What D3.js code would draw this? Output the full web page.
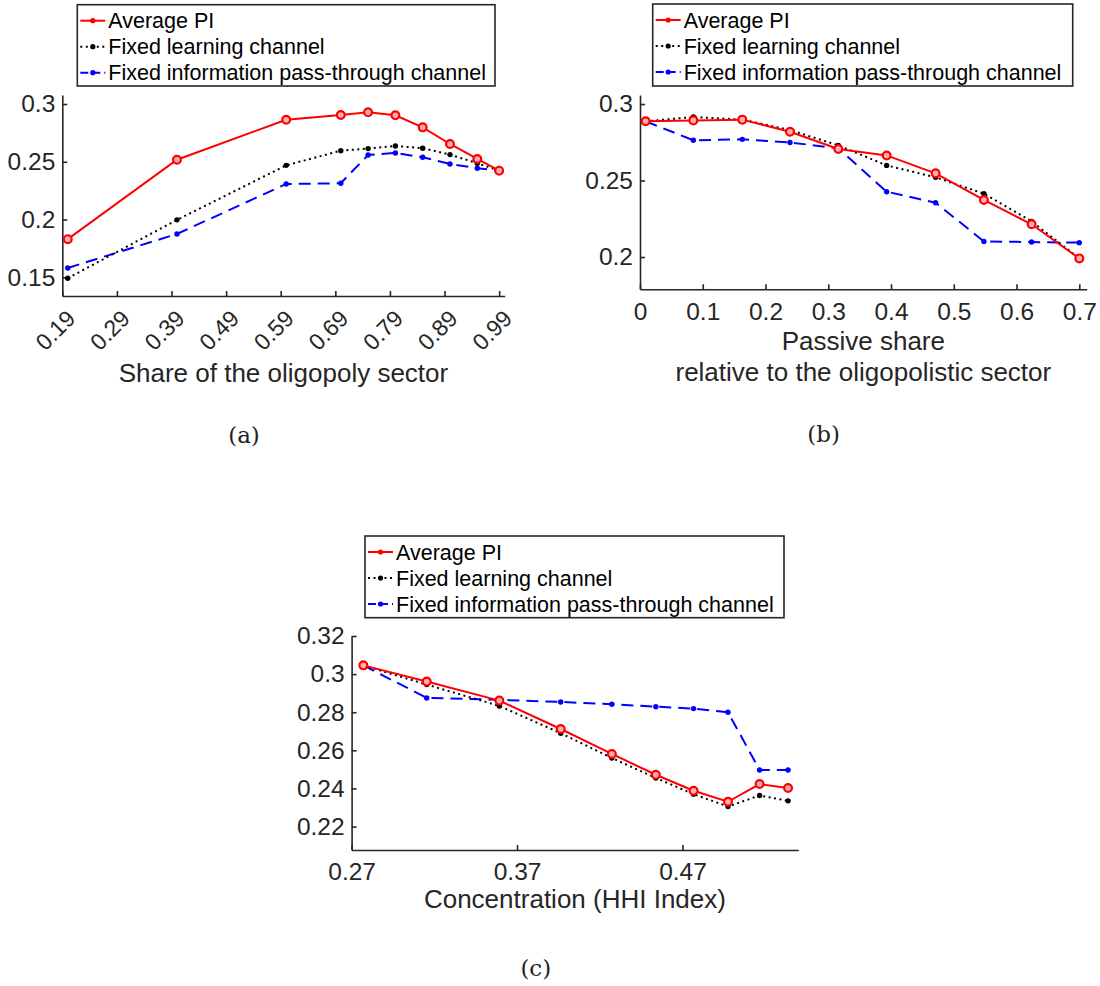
<!DOCTYPE html>
<html>
<head>
<meta charset="utf-8">
<script src="https://cdn.jsdelivr.net/npm/d3@7/dist/d3.min.js"></script>
<style>
  body { margin: 0; background: #fff; }
  svg text { font-family: "Liberation Sans", Arial, Helvetica, sans-serif; }
</style>
</head>
<body>
<svg id="chart" width="1100" height="986"></svg>
<script>
const seriesNames = ["Average PI", "Fixed learning channel", "Fixed information pass-through channel"];

// panel (a): share of the oligopoly sector
const shareX = [0.2, 0.4, 0.6, 0.7, 0.75, 0.8, 0.85, 0.9, 0.95, 0.99];
const shareAvg = [0.183, 0.2518, 0.2864, 0.2905, 0.2928, 0.2902, 0.2798, 0.2654, 0.2524, 0.2423];
const shareLearn = [0.1492, 0.1997, 0.2469, 0.2596, 0.2614, 0.2637, 0.2617, 0.2562, 0.2487, 0.2423];
const sharePass = [0.1581, 0.1875, 0.2308, 0.2314, 0.2559, 0.2576, 0.2539, 0.2481, 0.2444, 0.2423];
const shareXTicks = [0.19, 0.29, 0.39, 0.49, 0.59, 0.69, 0.79, 0.89, 0.99];
const shareXLabels = ["0.19", "0.29", "0.39", "0.49", "0.59", "0.69", "0.79", "0.89", "0.99"];
const shareYTicks = [0.15, 0.2, 0.25, 0.3];
const shareYLabels = ["0.15", "0.2", "0.25", "0.3"];

// panel (b): passive share
const passiveX = [0.009, 0.085, 0.163, 0.239, 0.316, 0.393, 0.471, 0.548, 0.624, 0.70];
const passiveAvg = [0.2887, 0.2893, 0.2898, 0.2819, 0.2706, 0.2664, 0.2547, 0.2373, 0.2214, 0.1991];
const passiveLearn = [0.2887, 0.2915, 0.2898, 0.283, 0.273, 0.2599, 0.2521, 0.2414, 0.2233, 0.1991];
const passivePass = [0.2887, 0.2763, 0.2769, 0.2749, 0.271, 0.2427, 0.2355, 0.2102, 0.2098, 0.2094];
const passiveXTicks = [0, 0.1, 0.2, 0.3, 0.4, 0.5, 0.6, 0.7];
const passiveXLabels = ["0", "0.1", "0.2", "0.3", "0.4", "0.5", "0.6", "0.7"];
const passiveYTicks = [0.2, 0.25, 0.3];
const passiveYLabels = ["0.2", "0.25", "0.3"];

// panel (c): concentration
const hhiX = [0.2771, 0.3154, 0.3593, 0.3964, 0.4273, 0.4539, 0.4767, 0.4975, 0.5166, 0.5338];
const hhiAvg = [0.3046, 0.2961, 0.2861, 0.2712, 0.2581, 0.2472, 0.2388, 0.233, 0.2423, 0.2402];
const hhiLearn = [0.3046, 0.2945, 0.2833, 0.269, 0.256, 0.2455, 0.237, 0.2305, 0.2363, 0.2335];
const hhiPass = [0.3046, 0.2875, 0.2865, 0.2854, 0.2842, 0.2829, 0.2819, 0.28, 0.2497, 0.2497];
const hhiXTicks = [0.27, 0.37, 0.47];
const hhiXLabels = ["0.27", "0.37", "0.47"];
const hhiYTicks = [0.22, 0.24, 0.26, 0.28, 0.3, 0.32];
const hhiYLabels = ["0.22", "0.24", "0.26", "0.28", "0.3", "0.32"];

const axisColor = "#262626";
const styles = [
  { color: "#ff0000", dash: null, marker: "circle" },
  { color: "#000000", dash: "2,3.5", marker: "dot" },
  { color: "#0000ff", dash: "12,7", marker: "dot" }
];

const svg = d3.select("#chart");

function drawMarkers(g, pts, st) {
  if (st.marker === "circle") {
    g.selectAll(null).data(pts).enter().append("circle")
      .attr("cx", d => d[0]).attr("cy", d => d[1]).attr("r", 3.9)
      .attr("fill", "#ffb0b0").attr("stroke", st.color).attr("stroke-width", 2.2);
  } else {
    g.selectAll(null).data(pts).enter().append("circle")
      .attr("cx", d => d[0]).attr("cy", d => d[1]).attr("r", 2.7)
      .attr("fill", st.color);
  }
}

function drawPanel(p) {
  const x = d3.scaleLinear().domain(p.xDomain).range([p.left, p.right]);
  const y = d3.scaleLinear().domain(p.yDomain).range([p.bottom, p.top]);

  const xAxis = svg.append("g")
    .attr("transform", `translate(0,${p.bottom})`)
    .call(d3.axisBottom(x).tickValues(p.xTicks).tickFormat((d, i) => p.xLabels[i])
      .tickSizeInner(-5).tickSizeOuter(0).tickPadding(13));
  const yAxis = svg.append("g")
    .attr("transform", `translate(${p.left},0)`)
    .call(d3.axisLeft(y).tickValues(p.yTicks).tickFormat((d, i) => p.yLabels[i])
      .tickSizeInner(-5).tickSizeOuter(0).tickPadding(7));

  [xAxis, yAxis].forEach(a => {
    a.select(".domain").attr("stroke", axisColor).attr("stroke-width", 1.6);
    a.selectAll(".tick line").attr("stroke", axisColor).attr("stroke-width", 1.6);
    a.selectAll("text").attr("fill", axisColor).attr("font-size", 24.5);
  });

  if (p.rotate) {
    xAxis.selectAll("text")
      .attr("font-size", 23)
      .attr("text-anchor", "end")
      .attr("y", 0).attr("dy", null)
      .attr("transform", "translate(14,24) rotate(-45)");
  }

  const line = d3.line().x(d => x(d[0])).y(d => y(d[1]));
  // draw in reverse so the red series stays on top
  [2, 1, 0].forEach(k => {
    const pts = p.xs.map((v, i) => [v, p.series[k][i]]);
    const st = styles[k];
    svg.append("path").datum(pts)
      .attr("d", line)
      .attr("fill", "none")
      .attr("stroke", st.color)
      .attr("stroke-width", 2)
      .attr("stroke-dasharray", st.dash);
    drawMarkers(svg.append("g"), pts.map(d => [x(d[0]), y(d[1])]), st);
  });

  p.xTitle.forEach((t, i) => {
    svg.append("text")
      .attr("x", (p.left + p.right) / 2).attr("y", p.xTitleY[i])
      .attr("text-anchor", "middle").attr("font-size", 26)
      .attr("fill", axisColor).text(t);
  });

  svg.append("text")
    .attr("x", p.captionX).attr("y", p.captionY)
    .attr("text-anchor", "middle")
    .attr("font-size", 23)
    .style("font-family", '"DejaVu Serif", "Liberation Serif", serif')
    .style("font-weight", "normal")
    .attr("fill", "#222").text(p.caption);

  // legend
  const lg = svg.append("g").attr("transform", `translate(${p.legend[0]},${p.legend[1]})`);
  lg.append("rect").attr("x", 0).attr("y", 0)
    .attr("width", p.legend[2]).attr("height", p.legend[3])
    .attr("fill", "#fff").attr("stroke", axisColor).attr("stroke-width", 1.6);
  seriesNames.forEach((name, k) => {
    const cy = 16 + k * 26;
    const st = styles[k];
    lg.append("line").attr("x1", 3).attr("x2", 28).attr("y1", cy).attr("y2", cy)
      .attr("stroke", st.color).attr("stroke-width", 2)
      .attr("stroke-dasharray", k === 2 ? "8,4" : st.dash);
    lg.append("circle").attr("cx", 15.5).attr("cy", cy).attr("r", 2.6).attr("fill", st.color);
    lg.append("text").attr("x", 31).attr("y", cy).attr("dy", "0.36em")
      .attr("font-size", 21.5).attr("fill", "#000").text(name);
  });
}

drawPanel({
  left: 62.3, right: 504.6, top: 95, bottom: 296,
  xDomain: [0.19, 1.0], yDomain: [0.1338, 0.3078],
  xs: shareX, series: [shareAvg, shareLearn, sharePass],
  xTicks: shareXTicks, xLabels: shareXLabels, yTicks: shareYTicks, yLabels: shareYLabels,
  rotate: true,
  xTitle: ["Share of the oligopoly sector"], xTitleY: [381.7],
  caption: "(a)", captionX: 244, captionY: 443,
  legend: [77.3, 4.7, 417.7, 81.3]
});

drawPanel({
  left: 640, right: 1086.7, top: 95, bottom: 289.3,
  xDomain: [0, 0.7118], yDomain: [0.1789, 0.3059],
  xs: passiveX, series: [passiveAvg, passiveLearn, passivePass],
  xTicks: passiveXTicks, xLabels: passiveXLabels, yTicks: passiveYTicks, yLabels: passiveYLabels,
  rotate: false,
  xTitle: ["Passive share", "relative to the oligopolistic sector"], xTitleY: [350, 380.7],
  caption: "(b)", captionX: 823.7, captionY: 442,
  legend: [652.7, 4, 420, 82]
});

drawPanel({
  left: 351.6, right: 798.3, top: 636, bottom: 850,
  xDomain: [0.27, 0.54], yDomain: [0.2077, 0.32],
  xs: hhiX, series: [hhiAvg, hhiLearn, hhiPass],
  xTicks: hhiXTicks, xLabels: hhiXLabels, yTicks: hhiYTicks, yLabels: hhiYLabels,
  rotate: false,
  xTitle: ["Concentration (HHI Index)"], xTitleY: [908.3],
  caption: "(c)", captionX: 535.8, captionY: 976,
  legend: [365, 536, 419, 81.7]
});
</script>
</body>
</html>
